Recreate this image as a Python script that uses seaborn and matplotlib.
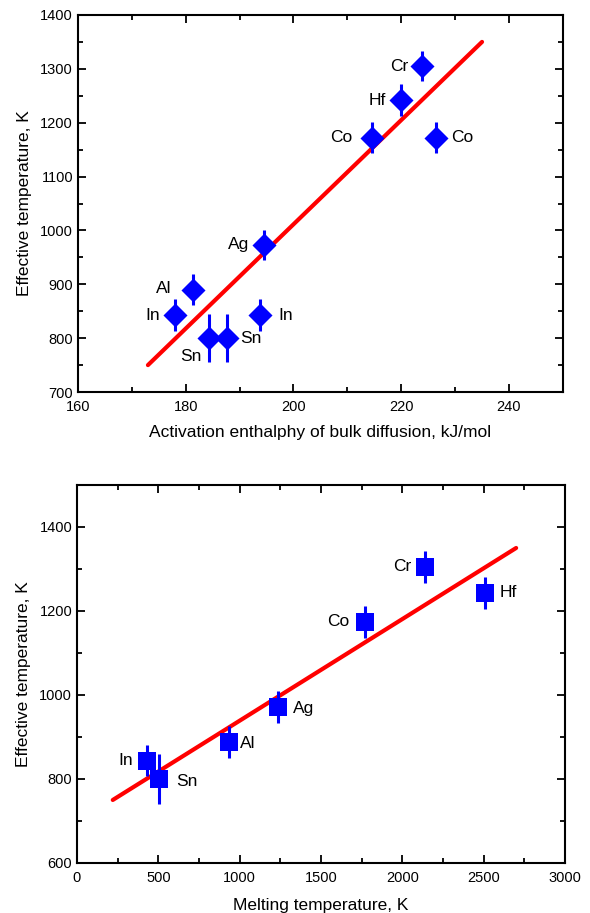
import numpy as np
import pandas as pd
import matplotlib
matplotlib.use('Agg')
import matplotlib.pyplot as plt
import seaborn as sns
from matplotlib.ticker import MultipleLocator

# top panel: activation enthalpy of bulk diffusion
top_metal = ['Cr', 'Hf', 'Co', 'Co', 'Ag', 'Al', 'In', 'In', 'Sn', 'Sn']
top_h = [223.9, 220.0, 214.5, 226.5, 194.6, 181.3, 178.0, 193.8, 184.3, 187.6]
top_t = [1305, 1242, 1172, 1172, 973, 890, 843, 843, 800, 800]
top_err = [28, 30, 29, 29, 28, 29, 29, 29, 45, 45]
top_fit_x = [173, 235]
top_fit_y = [750, 1350]

# bottom panel: melting temperature
bot_metal = ['Cr', 'Hf', 'Co', 'Ag', 'Al', 'In', 'Sn']
bot_tm = [2140, 2506, 1768, 1235, 933, 430, 505]
bot_t = [1305, 1243, 1174, 971, 888, 843, 800]
bot_err = [38, 38, 38, 38, 38, 37, 59]
bot_fit_x = [220, 2700]
bot_fit_y = [750, 1350]

sns.set_style('ticks')
plt.rcParams['font.family'] = ['Liberation Sans', 'DejaVu Sans']
for k in ['text.color', 'axes.labelcolor', 'xtick.color', 'ytick.color']:
    plt.rcParams[k] = 'black'

fig = plt.figure(figsize=(5.9, 9.13), dpi=100)
ax1 = fig.add_axes([0.132, 0.5706, 0.822, 0.413])
ax2 = fig.add_axes([0.1305, 0.0548, 0.827, 0.414])

blue = '#0000ff'
red = '#ff0000'

# top
df1 = pd.DataFrame({'x': top_h, 'y': top_t, 'err': top_err, 'metal': top_metal})
sns.lineplot(x=top_fit_x, y=top_fit_y, color=red, linewidth=3, ax=ax1, zorder=2)
ax1.errorbar(df1['x'], df1['y'], yerr=df1['err'], fmt='none', ecolor=blue,
             elinewidth=2.2, capsize=0, zorder=3)
sns.scatterplot(data=df1, x='x', y='y', marker='D', s=150, color=blue,
                edgecolor=blue, linewidth=0, ax=ax1, zorder=4)

# label offsets in points: (dx, dy, ha)
top_offsets = [(-10, 0, 'right'), (-11, 0, 'right'), (-14, 0, 'right'),
               (11, 0, 'left'), (-11, 0, 'right'), (-15, 1, 'right'),
               (-11, 0, 'right'), (13, 0, 'left'), (-5, -13, 'right'),
               (10, 0, 'left')]
for i, row in df1.iterrows():
    dx, dy, ha = top_offsets[i]
    ax1.annotate(row['metal'], (row['x'], row['y']), xytext=(dx, dy),
                 textcoords='offset points', ha=ha, va='center', fontsize=12.5)

ax1.set_xlim(160, 250)
ax1.set_ylim(700, 1400)
ax1.xaxis.set_major_locator(MultipleLocator(20))
ax1.xaxis.set_minor_locator(MultipleLocator(10))
ax1.yaxis.set_major_locator(MultipleLocator(100))
ax1.yaxis.set_minor_locator(MultipleLocator(50))
ax1.set_xlabel('Activation enthalphy of bulk diffusion, kJ/mol', fontsize=12.5, labelpad=8)
ax1.set_ylabel('Effective temperature, K', fontsize=12.5, labelpad=6)

# bottom
df2 = pd.DataFrame({'x': bot_tm, 'y': bot_t, 'err': bot_err, 'metal': bot_metal})
sns.lineplot(x=bot_fit_x, y=bot_fit_y, color=red, linewidth=3, ax=ax2, zorder=2)
ax2.errorbar(df2['x'], df2['y'], yerr=df2['err'], fmt='none', ecolor=blue,
             elinewidth=2.2, capsize=0, zorder=3)
sns.scatterplot(data=df2, x='x', y='y', marker='s', s=150, color=blue,
                edgecolor=blue, linewidth=0, ax=ax2, zorder=4)

bot_offsets = [(-10, 0, 'right'), (11, 0, 'left'), (-11, 0, 'right'),
               (11, -1, 'left'), (8, -1, 'left'), (-10, 0, 'right'),
               (12, -2, 'left')]
for i, row in df2.iterrows():
    dx, dy, ha = bot_offsets[i]
    ax2.annotate(row['metal'], (row['x'], row['y']), xytext=(dx, dy),
                 textcoords='offset points', ha=ha, va='center', fontsize=12.5)

ax2.set_xlim(0, 3000)
ax2.set_ylim(600, 1500)
ax2.xaxis.set_major_locator(MultipleLocator(500))
ax2.xaxis.set_minor_locator(MultipleLocator(250))
ax2.yaxis.set_major_locator(MultipleLocator(200))
ax2.yaxis.set_minor_locator(MultipleLocator(100))
ax2.set_xlabel('Melting temperature, K', fontsize=12.5, labelpad=9)
ax2.set_ylabel('Effective temperature, K', fontsize=12.5, labelpad=6)

for ax in (ax1, ax2):
    ax.tick_params(which='both', direction='in', top=True, right=True,
                   width=1.3, color='black')
    ax.tick_params(which='major', length=6, labelsize=10.5)
    ax.tick_params(which='minor', length=3.5)
    for sp in ax.spines.values():
        sp.set_linewidth(1.5)
        sp.set_color('black')
ax1.tick_params(axis='x', which='major', pad=6)
ax2.tick_params(axis='x', which='major', pad=6)

fig.savefig('out.png', dpi=100)
